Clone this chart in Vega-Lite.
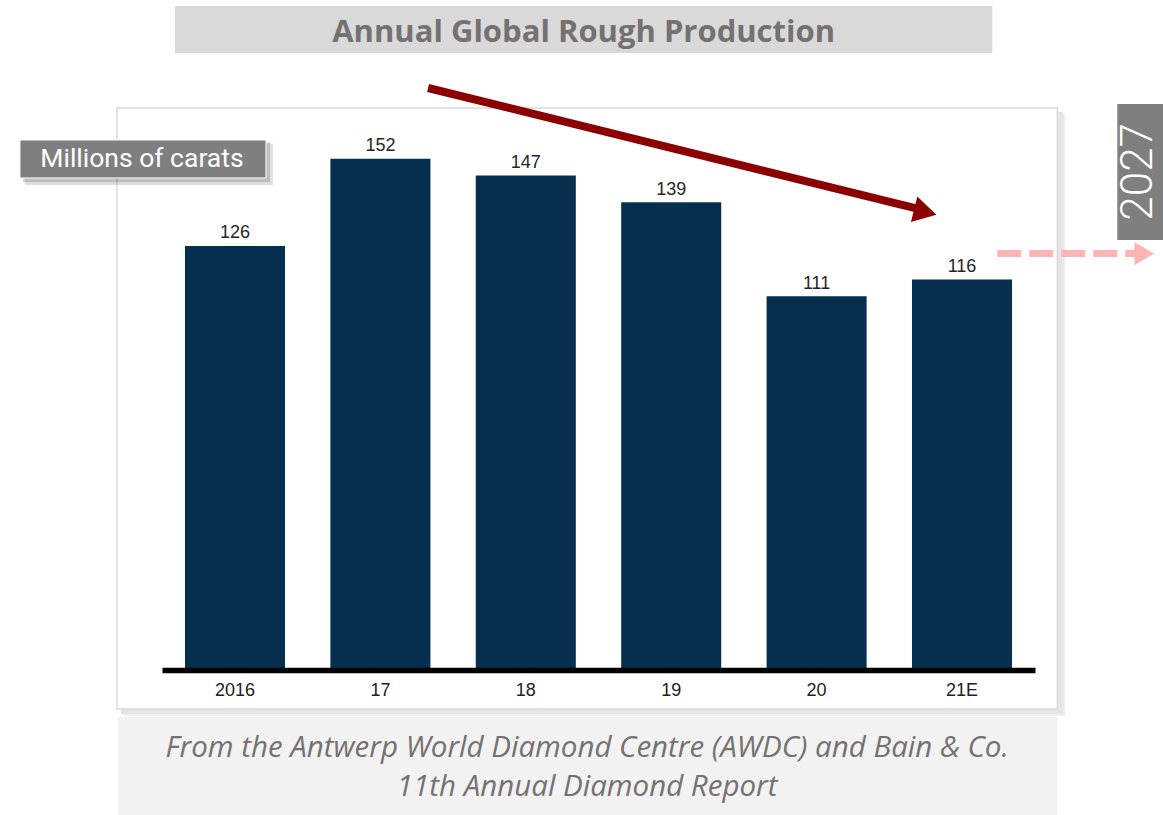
{
  "$schema": "https://vega.github.io/schema/vega-lite/v6.json",
  "width": 1163,
  "height": 815,
  "padding": 0,
  "autosize": {"type": "none"},
  "background": "white",
  "config": {"view": {"stroke": null}},
  "datasets": {
    "production": [
      {"year": "2016", "carats": 126},
      {"year": "17", "carats": 152},
      {"year": "18", "carats": 147},
      {"year": "19", "carats": 139},
      {"year": "20", "carats": 111},
      {"year": "21E", "carats": 116}
    ],
    "one": [{"k": 1}]
  },
  "layer": [
    {
      "data": {"name": "production"},
      "mark": {"type": "bar", "color": "#062f4f", "opacity": 0},
      "encoding": {
        "x": {"field": "year", "type": "nominal",
              "scale": {"domain": ["2016", "17", "18", "19", "20", "21E"], "range": [162, 1035], "paddingInner": 0.312, "paddingOuter": 0.158},
              "axis": {"title": null, "domainColor": "black", "domainWidth": 5.5, "ticks": false, "labelFont": "Liberation Sans", "labelFontSize": 18, "labelColor": "#222222", "labelPadding": 11, "labelAngle": 0, "offset": -145, "zindex": 1}},
        "y": {"field": "carats", "type": "quantitative",
              "scale": {"domain": [0, 199.4], "range": [668, 0], "nice": false, "zero": true},
              "axis": null}
      }
    },
    {"data": {"name": "one"}, "mark": {"type": "rect", "fill": "#cfcfcf", "opacity": 0.6},
     "encoding": {"x": {"datum": "2016", "bandPosition": -0.64}, "x2": {"datum": "2016", "bandPosition": 8.78},
                  "y": {"datum": 165.97}, "y2": {"datum": -13.73}}},
    {"data": {"name": "one"}, "mark": {"type": "rect", "fill": "#e6e6e6", "opacity": 0.6},
     "encoding": {"x": {"datum": "2016", "bandPosition": -0.62}, "x2": {"datum": "2016", "bandPosition": 8.80},
                  "y": {"datum": 165.4}, "y2": {"datum": -14.3}}},
    {"data": {"name": "one"}, "mark": {"type": "rect", "fill": "white", "stroke": "#d9d9d9", "strokeWidth": 1.5},
     "encoding": {"x": {"datum": "2016", "bandPosition": -0.68}, "x2": {"datum": "2016", "bandPosition": 8.72},
                  "y": {"datum": 167.16}, "y2": {"datum": -12.24}}},
    {"data": {"name": "one"}, "mark": {"type": "rect", "fill": "#f2f2f2"},
     "encoding": {"x": {"datum": "2016", "bandPosition": -0.67}, "x2": {"datum": "2016", "bandPosition": 8.72},
                  "y": {"datum": -14.63}, "y2": {"datum": -43.88}}},
    {"data": {"name": "one"}, "mark": {"type": "rect", "fill": "#d9d9d9"},
     "encoding": {"x": {"datum": "2016", "bandPosition": -0.10}, "x2": {"datum": "2016", "bandPosition": 8.07},
                  "y": {"datum": 197.61}, "y2": {"datum": 183.58}}},
    {"data": {"name": "one"}, "mark": {"type": "text", "text": "Annual Global Rough Production", "font": "Open Sans", "fontWeight": "bold", "fontSize": 31, "color": "#767171", "align": "center", "baseline": "alphabetic"},
     "encoding": {"x": {"datum": "2016", "bandPosition": 3.985}, "y": {"datum": 187.0}}},
    {"data": {"name": "one"}, "mark": {"type": "text", "text": "From the Antwerp World Diamond Centre (AWDC) and Bain & Co.", "font": "Open Sans", "fontStyle": "italic", "fontSize": 29.5, "color": "#767171", "align": "center", "baseline": "middle"},
     "encoding": {"x": {"datum": "2016", "bandPosition": 4.02}, "y": {"datum": -24.0}}},
    {"data": {"name": "one"}, "mark": {"type": "text", "text": "11th Annual Diamond Report", "font": "Open Sans", "fontStyle": "italic", "fontSize": 29.5, "color": "#767171", "align": "center", "baseline": "middle"},
     "encoding": {"x": {"datum": "2016", "bandPosition": 4.02}, "y": {"datum": -35.4}}},
    {
      "data": {"name": "production"},
      "mark": {"type": "bar", "color": "#062f4f"},
      "encoding": {
        "x": {"field": "year", "type": "nominal"},
        "y": {"field": "carats", "type": "quantitative"}
      }
    },
    {
      "data": {"name": "production"},
      "mark": {"type": "text", "font": "Liberation Sans", "fontSize": 18, "color": "#262626", "baseline": "alphabetic", "dy": -7.5},
      "encoding": {
        "x": {"field": "year", "type": "nominal"},
        "y": {"field": "carats", "type": "quantitative"},
        "text": {"field": "carats", "type": "quantitative"}
      }
    },
    {"data": {"name": "one"}, "mark": {"type": "rect", "fill": "black", "opacity": 0.12},
     "encoding": {"x": {"datum": "2016", "bandPosition": -1.60}, "x2": {"datum": "2016", "bandPosition": 0.88},
                  "y": {"datum": 156.6}, "y2": {"datum": 144.2}}},
    {"data": {"name": "one"}, "mark": {"type": "rect", "fill": "black", "opacity": 0.15},
     "encoding": {"x": {"datum": "2016", "bandPosition": -1.62}, "x2": {"datum": "2016", "bandPosition": 0.85},
                  "y": {"datum": 157.0}, "y2": {"datum": 145.0}}},
    {"data": {"name": "one"}, "mark": {"type": "rect", "fill": "#7f7f7f", "stroke": "white", "strokeWidth": 1},
     "encoding": {"x": {"datum": "2016", "bandPosition": -1.65}, "x2": {"datum": "2016", "bandPosition": 0.81},
                  "y": {"datum": 157.61}, "y2": {"datum": 146.27}}},
    {"data": {"name": "one"}, "mark": {"type": "text", "text": "Millions of carats", "font": "Roboto", "fontSize": 26.5, "color": "white", "align": "center", "baseline": "middle"},
     "encoding": {"x": {"datum": "2016", "bandPosition": -0.43}, "y": {"datum": 151.94}}},
    {"data": {"name": "one"}, "mark": {"type": "rect", "fill": "#7f7f7f"},
     "encoding": {"x": {"datum": "2016", "bandPosition": 9.32}, "x2": {"datum": "2016", "bandPosition": 9.78},
                  "y": {"datum": 168.36}, "y2": {"datum": 127.76}}},
    {"data": {"name": "one"}, "mark": {"type": "text", "text": "2027", "font": "Roboto", "fontWeight": 300, "fontSize": 44, "color": "white", "align": "center", "baseline": "middle", "angle": 270},
     "encoding": {"x": {"datum": "2016", "bandPosition": 9.54}, "y": {"datum": 148.1}}},
    {"data": {"name": "one"}, "mark": {"type": "rule", "stroke": "#ffb3b3", "strokeWidth": 7, "strokeDash": [24, 8]},
     "encoding": {"x": {"datum": "2016", "bandPosition": 8.12}, "x2": {"datum": "2016", "bandPosition": 9.50},
                  "y": {"datum": 123.7}}},
    {"data": {"name": "one"}, "mark": {"type": "point", "shape": "triangle-right", "filled": true, "fill": "#ffb3b3", "opacity": 1, "size": 520, "strokeWidth": 0},
     "encoding": {"x": {"datum": "2016", "bandPosition": 9.59}, "y": {"datum": 123.7}}},
    {"data": {"name": "one"}, "mark": {"type": "rule", "stroke": "#8b0000", "strokeWidth": 8},
     "encoding": {"x": {"datum": "2016", "bandPosition": 2.43}, "x2": {"datum": "2016", "bandPosition": 7.37},
                  "y": {"datum": 173.13}, "y2": {"datum": 136.72}}},
    {"data": {"name": "one"}, "mark": {"type": "point", "shape": "triangle-right", "filled": true, "fill": "#8b0000", "opacity": 1, "size": 700, "angle": 14, "strokeWidth": 0},
     "encoding": {"x": {"datum": "2016", "bandPosition": 7.40}, "y": {"datum": 136.12}}}
  ]
}
